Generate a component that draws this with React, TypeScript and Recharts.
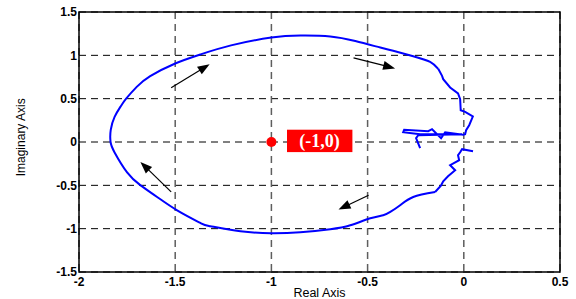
import React from "react";
import {
    ScatterChart,
    Scatter,
    XAxis,
    YAxis,
    CartesianGrid,
    ReferenceLine,
    ReferenceDot,
    ReferenceArea,
} from "recharts";

// Nyquist curve, in drawing order
// ragged start near the origin (lower half)
const lowerRagged: [number, number][] = [
    [0.048, -0.106], [-0.009, -0.083], [-0.019, -0.118], [-0.03, -0.152], [-0.024, -0.21],
    [-0.071, -0.268], [-0.045, -0.326], [-0.082, -0.395], [-0.107, -0.453], [-0.118, -0.5],
    [-0.149, -0.577],
];

// big smooth sweep round the left
const smoothLoop: [number, number][] = [
    [-0.149, -0.577], [-0.263, -0.634], [-0.331, -0.73], [-0.382, -0.807], [-0.419, -0.845],
    [-0.486, -0.88], [-0.59, -0.961], [-0.694, -1.007], [-0.85, -1.042], [-1.0, -1.053],
    [-1.161, -1.03], [-1.317, -0.972], [-1.369, -0.934], [-1.49, -0.788], [-1.594, -0.634],
    [-1.68, -0.5], [-1.75, -0.35], [-1.815, -0.12], [-1.836, 0.0], [-1.835, 0.14],
    [-1.815, 0.29], [-1.785, 0.405], [-1.755, 0.5], [-1.7, 0.636], [-1.63, 0.76],
    [-1.5, 0.906], [-1.37, 1.01], [-1.21, 1.115], [-1.0, 1.205], [-0.849, 1.228],
    [-0.694, 1.218], [-0.564, 1.165], [-0.434, 1.09], [-0.367, 1.052], [-0.263, 0.99],
    [-0.175, 0.925], [-0.133, 0.844],
];

// ragged descent on the right and the tangle near the origin
const upperRagged: [number, number][] = [
    [-0.133, 0.844], [-0.113, 0.763], [-0.107, 0.725], [-0.071, 0.629], [-0.03, 0.56],
    [-0.019, 0.494], [-0.016, 0.367], [0.007, 0.348], [0.047, 0.294], [0.028, 0.194],
    [0.012, 0.136], [0.007, 0.09], [-0.004, 0.084], [-0.097, 0.113], [-0.118, 0.044],
    [-0.165, 0.148], [-0.185, 0.125], [-0.31, 0.142], [-0.315, 0.113], [-0.227, 0.09],
    [-0.009, 0.09], [-0.237, 0.078], [-0.248, 0.044], [-0.227, -0.072],
];

// direction arrows: [x1, y1, x2, y2], head at the second point
const arrows: [number, number, number, number][] = [
    [-1.521, 0.625, -1.321, 0.898],
    [-0.573, 0.971, -0.357, 0.849],
    [-1.521, -0.576, -1.681, -0.23],
    [-0.495, -0.614, -0.651, -0.779],
];

const xTicks = [-2, -1.5, -1, -0.5, 0, 0.5];
const yTicks = [-1.5, -1, -0.5, 0, 0.5, 1, 1.5];
const criticalPoint = { x: -1, y: 0, label: "(-1,0)" };

const toPoints = (arr: [number, number][]) => arr.map(([x, y]) => ({ x, y }));

const FONT = "'Liberation Sans', Arial, sans-serif";
const BLUE = "#0000ff";

function ArrowShape(props: any) {
    const { x1, y1, x2, y2 } = props;
    if ([x1, y1, x2, y2].some((v) => typeof v !== "number")) return <g />;
    const dx = x2 - x1;
    const dy = y2 - y1;
    const len = Math.sqrt(dx * dx + dy * dy) || 1;
    const ux = dx / len;
    const uy = dy / len;
    const hl = 12;
    const hw = 4.5;
    const bx = x2 - ux * hl;
    const by = y2 - uy * hl;
    const pts = `${x2},${y2} ${bx - uy * hw},${by + ux * hw} ${bx + uy * hw},${by - ux * hw}`;
    return (
        <g>
            <line x1={x1} y1={y1} x2={bx + ux * 2} y2={by + uy * 2} stroke="#000" strokeWidth={1.2} />
            <polygon points={pts} fill="#000" />
        </g>
    );
}

function TagLabel({ viewBox }: any) {
    if (!viewBox) return null;
    const cx = viewBox.x + viewBox.width / 2;
    const cy = viewBox.y + viewBox.height / 2;
    const left = cx + 15.6;
    const top = cy - 12.3;
    return (
        <g>
            <rect x={left} y={top} width={65.4} height={22.4} fill="#ff0000" />
            <text
                x={left + 32.4}
                y={top + 17.2}
                textAnchor="middle"
                fill="#fff"
                fontWeight="bold"
                fontSize={18}
                fontFamily="'Liberation Serif', 'Times New Roman', serif"
            >
                {criticalPoint.label}
            </text>
        </g>
    );
}

function YTitle() {
    return (
        <text
            x={25}
            y={137.3}
            transform="rotate(-90 25 137.3)"
            textAnchor="middle"
            fontSize={12}
            fontFamily={FONT}
            fill="#000"
        >
            Imaginary Axis
        </text>
    );
}

const noDot = () => <g />;

export default function App() {
    return (
        <div style={{ position: "absolute", left: 0, top: 0, background: "#fff" }}>
            <ScatterChart width={576} height={299} margin={{ top: 12, right: 16, left: 0, bottom: 0 }}>
                <CartesianGrid
                    vertical={false}
                    stroke="#000"
                    strokeDasharray="7 5"
                    strokeWidth={1}
                />
                <CartesianGrid
                    horizontal={false}
                    stroke="#5e5e5e"
                    strokeDasharray="7 5"
                    strokeWidth={1.5}
                />
                <XAxis
                    type="number"
                    dataKey="x"
                    domain={[-2, 0.5]}
                    ticks={xTicks}
                    allowDataOverflow
                    height={27}
                    axisLine={false}
                    tickLine={false}
                    tickSize={3}
                    tickMargin={2.5}
                    tick={{ fill: "#000", fontSize: 12, fontWeight: "bold", fontFamily: FONT }}
                    label={{ value: "Real Axis", position: "insideBottom", offset: 2.5, fill: "#000", fontSize: 12.5, fontFamily: FONT }}
                />
                <YAxis
                    type="number"
                    dataKey="y"
                    domain={[-1.5, 1.5]}
                    ticks={yTicks}
                    allowDataOverflow
                    width={79}
                    axisLine={false}
                    tickLine={false}
                    tickSize={2}
                    tickMargin={0}
                    tick={{ fill: "#000", fontSize: 12, fontWeight: "bold", fontFamily: FONT }}
                    label={{ content: () => <YTitle /> }}
                />
                <ReferenceArea
                    x1={-2}
                    x2={0.5}
                    y1={-1.5}
                    y2={1.5}
                    fill="none"
                    fillOpacity={0}
                    stroke="#000"
                    strokeWidth={1.5}
                />
                <Scatter
                    data={toPoints(lowerRagged)}
                    line={{ stroke: BLUE, strokeWidth: 2 }}
                    lineType="joint"
                    lineJointType="linear"
                    shape={noDot}
                    isAnimationActive={false}
                />
                <Scatter
                    data={toPoints(smoothLoop)}
                    line={{ stroke: BLUE, strokeWidth: 2 }}
                    lineType="joint"
                    lineJointType="natural"
                    shape={noDot}
                    isAnimationActive={false}
                />
                <Scatter
                    data={toPoints(upperRagged)}
                    line={{ stroke: BLUE, strokeWidth: 2 }}
                    lineType="joint"
                    lineJointType="linear"
                    shape={noDot}
                    isAnimationActive={false}
                />
                {arrows.map(([ax1, ay1, ax2, ay2], i) => (
                    <ReferenceLine
                        key={i}
                        segment={[{ x: ax1, y: ay1 }, { x: ax2, y: ay2 }]}
                        stroke="#000"
                        shape={ArrowShape}
                    />
                ))}
                <ReferenceDot
                    x={criticalPoint.x}
                    y={criticalPoint.y}
                    r={5}
                    fill="#ff0000"
                    stroke="none"
                    label={{ content: TagLabel }}
                />
            </ScatterChart>
        </div>
    );
}
